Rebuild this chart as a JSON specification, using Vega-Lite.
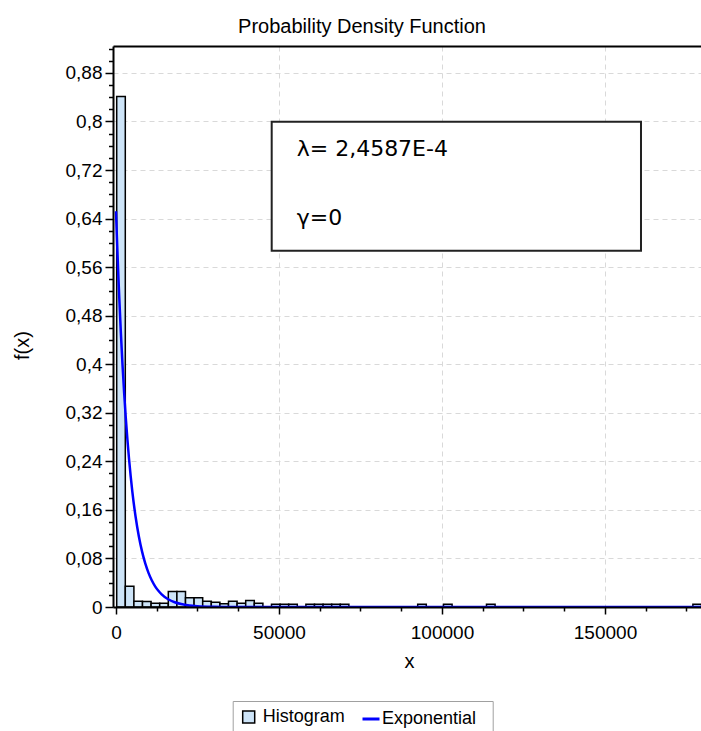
{
  "$schema": "https://vega.github.io/schema/vega-lite/v6.json",
  "width": 588,
  "height": 561,
  "autosize": {"type": "none"},
  "padding": {"left": 113, "top": 46, "right": 0, "bottom": 124},
  "background": "white",
  "config": {"view": {"stroke": null}, "font": "Liberation Sans"},
  "title": {"text": "Probability Density Function", "font": "Liberation Sans", "fontSize": 20, "fontWeight": "normal", "color": "black", "anchor": "middle", "frame": "group", "dx": -45, "baseline": "alphabetic", "offset": -7},
  "datasets": {
    "hist": [
      {"bin_start": 215, "bin_end": 2853, "density": 0.8412},
      {"bin_start": 2853, "bin_end": 5491, "density": 0.0343},
      {"bin_start": 5491, "bin_end": 8129, "density": 0.0096},
      {"bin_start": 8129, "bin_end": 10767, "density": 0.009},
      {"bin_start": 10767, "bin_end": 13405, "density": 0.0063},
      {"bin_start": 13405, "bin_end": 16043, "density": 0.0063},
      {"bin_start": 16043, "bin_end": 18681, "density": 0.0255},
      {"bin_start": 18681, "bin_end": 21319, "density": 0.0255},
      {"bin_start": 21319, "bin_end": 23957, "density": 0.0152},
      {"bin_start": 23957, "bin_end": 26595, "density": 0.0152},
      {"bin_start": 26595, "bin_end": 29233, "density": 0.0096},
      {"bin_start": 29233, "bin_end": 31871, "density": 0.0079},
      {"bin_start": 31871, "bin_end": 34509, "density": 0.0053},
      {"bin_start": 34509, "bin_end": 37147, "density": 0.0096},
      {"bin_start": 37147, "bin_end": 39785, "density": 0.0063},
      {"bin_start": 39785, "bin_end": 42423, "density": 0.0107},
      {"bin_start": 42423, "bin_end": 45061, "density": 0.0063},
      {"bin_start": 47699, "bin_end": 50337, "density": 0.0045},
      {"bin_start": 50337, "bin_end": 52975, "density": 0.0045},
      {"bin_start": 52975, "bin_end": 55613, "density": 0.0045},
      {"bin_start": 58251, "bin_end": 60889, "density": 0.0045},
      {"bin_start": 60889, "bin_end": 63527, "density": 0.0045},
      {"bin_start": 63527, "bin_end": 66165, "density": 0.0045},
      {"bin_start": 66165, "bin_end": 68803, "density": 0.0045},
      {"bin_start": 68803, "bin_end": 71441, "density": 0.0045},
      {"bin_start": 92545, "bin_end": 95183, "density": 0.0045},
      {"bin_start": 100459, "bin_end": 103097, "density": 0.0045},
      {"bin_start": 113649, "bin_end": 116287, "density": 0.0045},
      {"bin_start": 176961, "bin_end": 179599, "density": 0.0045}
    ],
    "curve": [
      {"x": 0, "f": 0.652},
      {"x": 250, "f": 0.6131},
      {"x": 500, "f": 0.5766},
      {"x": 750, "f": 0.5422},
      {"x": 1000, "f": 0.5099},
      {"x": 1500, "f": 0.4509},
      {"x": 2000, "f": 0.3987},
      {"x": 2500, "f": 0.3526},
      {"x": 3000, "f": 0.3118},
      {"x": 3500, "f": 0.2758},
      {"x": 4000, "f": 0.2439},
      {"x": 4500, "f": 0.2156},
      {"x": 5000, "f": 0.1907},
      {"x": 6000, "f": 0.1491},
      {"x": 7000, "f": 0.1166},
      {"x": 8000, "f": 0.0912},
      {"x": 9000, "f": 0.0713},
      {"x": 10000, "f": 0.0558},
      {"x": 11000, "f": 0.0436},
      {"x": 12000, "f": 0.0341},
      {"x": 13000, "f": 0.0267},
      {"x": 14000, "f": 0.0209},
      {"x": 16000, "f": 0.0128},
      {"x": 18000, "f": 0.0078},
      {"x": 20000, "f": 0.0048},
      {"x": 22500, "f": 0.0026},
      {"x": 25000, "f": 0.0014},
      {"x": 30000, "f": 0.0004},
      {"x": 35000, "f": 0.0001},
      {"x": 40000, "f": 0},
      {"x": 180000, "f": 0}
    ]
  },
  "layer": [
    {
      "data": {"name": "hist"},
      "mark": {"type": "rect", "stroke": "black", "strokeWidth": 1.5, "clip": true},
      "encoding": {
        "x": {"field": "bin_start", "type": "quantitative", "scale": {"domain": [-920, 179450], "nice": false, "zero": false},
          "axis": {"orient": "bottom", "values": [50000, 100000, 150000], "grid": true, "gridColor": "#d9d9d9", "gridDash": [5, 4], "gridWidth": 1, "domain": false, "ticks": false, "labels": false, "title": null, "zindex": 0}},
        "x2": {"field": "bin_end"},
        "y": {"field": "density", "type": "quantitative", "scale": {"domain": [0, 0.9244], "nice": false, "zero": false},
          "axis": {"orient": "left", "values": [0.08, 0.16, 0.24, 0.32, 0.4, 0.48, 0.56, 0.64, 0.72, 0.8, 0.88], "grid": true, "gridColor": "#d9d9d9", "gridDash": [5, 4], "gridWidth": 1, "domain": false, "ticks": false, "labels": false, "title": null, "zindex": 0}},
        "y2": {"datum": 0},
        "color": {"datum": "Histogram", "type": "nominal",
          "scale": {"domain": ["Histogram"], "range": ["#cde4f8"]},
          "legend": {"orient": "none", "legendX": 119.7, "legendY": 655, "title": null,
            "labelFont": "Liberation Sans", "labelFontSize": 18, "labelColor": "black", "labelLimit": 400,
            "labelExpr": "datum.label + '\u00a0\u00a0\u00a0\u00a0\u00a0\u00a0\u00a0\u00a0\u00a0\u00a0\u00a0\u00a0\u00a0\u00a0\u00a0\u00a0\u00a0\u00a0\u00a0\u00a0\u00a0\u00a0\u00a0\u00a0\u00a0\u00a0\u00a0\u00a0\u200b'",
            "strokeColor": "#a0a0a0", "fillColor": null, "padding": 7, "labelOffset": 5,
            "symbolType": "square", "symbolSize": 144, "symbolStrokeColor": "black", "symbolStrokeWidth": 1.5, "symbolFillColor": "#cde4f8", "symbolOpacity": 1}}
      }
    },
    {
      "data": {"name": "curve"},
      "mark": {"type": "line", "strokeWidth": 2.5, "clip": true, "interpolate": "monotone"},
      "encoding": {
        "x": {"field": "x", "type": "quantitative",
          "axis": {"orient": "bottom", "values": [0, 50000, 100000, 150000], "format": "d", "grid": false, "domain": true, "domainColor": "black", "domainWidth": 2, "ticks": true, "tickColor": "black", "tickSize": 7, "tickWidth": 1.5, "labelFont": "Liberation Sans", "labelFontSize": 19, "labelColor": "black", "labelPadding": 9, "labelFlush": false, "labelOverlap": false, "title": "x", "titleFont": "Liberation Sans", "titleFontSize": 20, "titleFontWeight": "normal", "titleColor": "black", "titleBaseline": "alphabetic", "titleY": 60, "titleX": 296, "zindex": 1}},
        "y": {"field": "f", "type": "quantitative",
          "axis": {"orient": "left", "values": [0, 0.08, 0.16, 0.24, 0.32, 0.4, 0.48, 0.56, 0.64, 0.72, 0.8, 0.88], "labelExpr": "replace(format(datum.value, '.2~f'), '.', ',')", "grid": false, "domain": true, "domainColor": "black", "domainWidth": 2, "ticks": true, "tickColor": "black", "tickSize": 8, "tickWidth": 1.5, "labelFont": "Liberation Sans", "labelFontSize": 19, "labelColor": "black", "labelPadding": 3, "labelOverlap": false, "title": "f(x)", "titleFont": "Liberation Sans", "titleFontSize": 20, "titleFontWeight": "normal", "titleColor": "black", "titleAngle": 270, "titleBaseline": "middle", "titleX": -91, "titleY": 299, "zindex": 1}},
        "color": {"datum": "Exponential", "type": "nominal",
          "scale": {"domain": ["Exponential"], "range": ["#0000ff"]},
          "legend": {"orient": "none", "legendX": 248, "legendY": 663, "title": null, "zindex": 2,
            "labelFont": "Liberation Sans", "labelFontSize": 18, "labelColor": "black",
            "strokeColor": null, "fillColor": null, "padding": 0, "labelOffset": 1,
            "symbolType": "stroke", "symbolSize": 289, "symbolStrokeWidth": 3}}
      }
    },
    {
      "data": {"values": [{"x1": 47761, "x2": 161043, "y1": 0.5869, "y2": 0.7996}]},
      "mark": {"type": "rect", "fill": "white", "stroke": "#222222", "strokeWidth": 2},
      "encoding": {
        "x": {"field": "x1", "type": "quantitative",
          "axis": {"orient": "bottom", "values": [12500, 25000, 37500, 62500, 75000, 87500, 112500, 125000, 137500, 162500, 175000], "grid": false, "domain": false, "ticks": true, "tickSize": 4, "tickColor": "black", "tickWidth": 1.5, "labels": false, "title": null, "zindex": 1}},
        "x2": {"field": "x2"},
        "y": {"field": "y1", "type": "quantitative",
          "axis": {"orient": "left", "values": [0.02, 0.04, 0.06, 0.1, 0.12, 0.14, 0.18, 0.2, 0.22, 0.26, 0.28, 0.3, 0.34, 0.36, 0.38, 0.42, 0.44, 0.46, 0.5, 0.52, 0.54, 0.58, 0.6, 0.62, 0.66, 0.68, 0.7, 0.74, 0.76, 0.78, 0.82, 0.84, 0.86, 0.9, 0.92], "grid": false, "domain": false, "ticks": true, "tickSize": 4.5, "tickColor": "black", "tickWidth": 1.5, "labels": false, "title": null, "zindex": 1}},
        "y2": {"field": "y2"}
      }
    },
    {
      "data": {"values": [{"x": 55429, "y": 0.7547, "label": "λ= 2,4587E-4"}, {"x": 55429, "y": 0.6418, "label": "γ=0"}]},
      "mark": {"type": "text", "align": "left", "baseline": "middle", "font": "DejaVu Sans", "fontSize": 22, "color": "black"},
      "encoding": {
        "x": {"field": "x", "type": "quantitative",
          "axis": {"orient": "top", "domain": true, "domainColor": "black", "domainWidth": 2, "ticks": false, "labels": false, "grid": false, "title": null, "zindex": 1}},
        "y": {"field": "y", "type": "quantitative", "axis": null},
        "text": {"field": "label"}
      }
    }
  ],
  "resolve": {"axis": {"x": "independent", "y": "independent"}, "scale": {"color": "independent"}, "legend": {"color": "independent"}}
}
